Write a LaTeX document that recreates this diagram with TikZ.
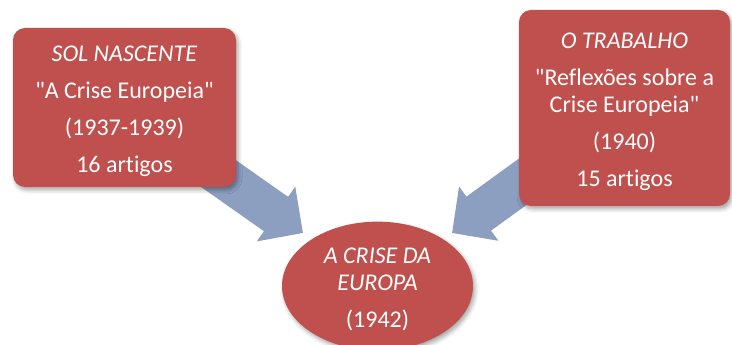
\documentclass[tikz,border=0pt]{standalone}
\usepackage{fontspec}
\setmainfont{Carlito}[Ligatures={NoCommon}]
\usetikzlibrary{arrows.meta,shapes.geometric,shadows.blur,backgrounds}
\definecolor{ccred}{HTML}{C0504D}
\definecolor{ccarrow}{HTML}{8C9FC1}
% text block, set a little lower in its shape
\newcommand{\boxtext}[1]{\raisebox{-4pt}[\height][\depth]{\begin{tabular}{@{}c@{}}#1\end{tabular}}}

\begin{document}
\begin{tikzpicture}[x=1pt, y=1pt,
    every node/.style={font=\fontsize{24}{27}\selectfont, text=white},
    box/.style={rectangle, fill=ccred, rounded corners=12pt,
      blur shadow={shadow xshift=2pt, shadow yshift=-3pt, shadow blur radius=4pt, shadow opacity=35}},
    bigarrow/.style={ccarrow, line width=42pt, -{Triangle[width=65pt, length=33pt]}}]
    \useasboundingbox (0,0) rectangle (732,345);

    % Source articles
    \node[box, minimum width=223pt, minimum height=159pt] (sol) at (124.5,237.5)
      {\boxtext{\textit{SOL NASCENTE}\\[10pt] \textquotedbl A Crise Europeia\textquotedbl\\[10pt] (1937-1939)\\[10pt] 16 artigos}};
    \node[box, minimum width=211pt, minimum height=196pt] (trabalho) at (624.5,237)
      {\boxtext{\textit{O TRABALHO}\\[10pt] \textquotedbl Reflexões sobre a\\ Crise Europeia\textquotedbl\\[10pt] (1940)\\[10pt] 15 artigos}};

    % The book
    \node[ellipse, fill=ccred, minimum width=191pt, minimum height=120pt, inner sep=0pt,
      blur shadow={shadow xshift=2pt, shadow yshift=-3pt, shadow blur radius=4pt, shadow opacity=35}]
      (crise) at (377.5,59) {\boxtext{\textit{A CRISE DA}\\ \textit{EUROPA}\\[10pt] (1942)}};

    % Arrow tips
    \coordinate (tipL) at (303,112);
    \coordinate (tipR) at (452,112);

    \begin{scope}[on background layer]
      \draw[bigarrow] (sol.center) -- (tipL);
      \draw[bigarrow] (trabalho.center) -- (tipR);
    \end{scope}
\end{tikzpicture}
\end{document}
